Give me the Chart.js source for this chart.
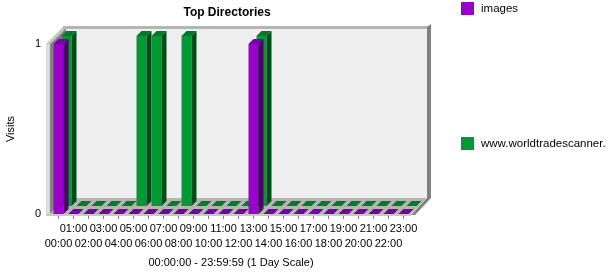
<!DOCTYPE html>
<html><head><meta charset="utf-8">
<script src="https://cdn.jsdelivr.net/npm/chart.js@4/dist/chart.umd.min.js"></script>
<style>html,body{margin:0;padding:0;background:#fff}canvas{display:block}</style>
</head><body>
<canvas id="c" width="609" height="274"></canvas>
<script>
const hours = ['00:00','01:00','02:00','03:00','04:00','05:00','06:00','07:00','08:00','09:00','10:00','11:00',
               '12:00','13:00','14:00','15:00','16:00','17:00','18:00','19:00','20:00','21:00','22:00','23:00'];
const imagesVisits = [1,0,0,0,0,0,0,0,0,0,0,0,0,1,0,0,0,0,0,0,0,0,0,0];
const wtsVisits    = [1,0,0,0,0,1,1,0,1,0,0,0,0,1,0,0,0,0,0,0,0,0,0,0];
const seriesNames = ['images','www.worldtradescanner.'];
const yTickValues = [0,1];
const chartTitle = 'Top Directories';
const xTitle = '00:00:00 - 23:59:59 (1 Day Scale)';
const yTitle = 'Visits';

const FONT = 'Liberation Sans, Arial, sans-serif';
const SLOT = 8, BD = 5;
const SHADES = [
  {front:'#9900CC', side:'#4C0066', top:'#7A00A8', slab:'#7300A0'},
  {front:'#009933', side:'#004D19', top:'#007A29', slab:'#007A29'}
];

function poly(ctx, pts, col){
  ctx.beginPath(); ctx.moveTo(pts[0][0], pts[0][1]);
  for (let i=1;i<pts.length;i++) ctx.lineTo(pts[i][0], pts[i][1]);
  ctx.closePath(); ctx.fillStyle=col; ctx.fill();
}

const threeD = {
  id:'threeD',
  beforeDatasetsDraw(chart){
    const ctx = chart.ctx, a = chart.chartArea;
    const L=a.left, R=a.right, T=a.top, B=a.bottom, D=SLOT*2;
    ctx.save();
    poly(ctx, [[L-1,T],[L-1+D,T-D],[L-1+D,B-D],[L-1,B]], '#808080');
    ctx.fillStyle='#DCDCDC'; ctx.fillRect(L-5, T, 4, B-T+2);
    poly(ctx, [[L-5,T],[L-5+D,T-D],[L-1+D,T-D],[L-1,T]], '#C4C4C4');
    ctx.fillStyle='#EEEEEE'; ctx.fillRect(L+D-1, T-D, R-L+1, B-T);
    ctx.fillStyle='#B4B4B4'; ctx.fillRect(L+D-4, T-D-2, R-L+8, 3);
    poly(ctx, [[R+D,T-D-1],[R+D+4,T-D-4],[R+D+4,B-D],[R+4,B+1],[R,B+1],[R+D,B-D]], '#808080');
    poly(ctx, [[L-1,B],[L-1+D,B-D],[R+D,B-D],[R,B]], '#B4B4B4');
    ctx.fillStyle='#C8C8C8'; ctx.fillRect(L-5, B, R-L+5, 2);

    for (let di = chart.data.datasets.length-1; di>=0; di--){
      const meta = chart.getDatasetMeta(di), sh = SHADES[di], off = di*SLOT;
      meta.data.forEach(el=>{
        const p = el.getProps(['x','y','base','width'], true);
        const x0 = p.x - p.width/2 + off, x1 = x0 + p.width;
        const yt = Math.min(p.y,p.base) - off, yb = Math.max(p.y,p.base) - off;
        if (yb - yt > 0.5){
          ctx.fillStyle = sh.front; ctx.fillRect(x0, yt, x1-x0, yb-yt);
          poly(ctx, [[x1,yt],[x1+BD,yt-BD],[x1+BD,yb-BD],[x1,yb]], sh.side);
          poly(ctx, [[x0,yt],[x0+BD,yt-BD],[x1+BD,yt-BD],[x1,yt]], sh.top);
        } else {
          poly(ctx, [[x0,yb],[x0+BD,yb-BD],[x1+BD,yb-BD],[x1,yb]], sh.slab);
        }
      });
    }
    ctx.restore();
    return false;
  },
  afterDraw(chart){
    const ctx = chart.ctx, a = chart.chartArea;
    ctx.save();
    ctx.fillStyle='#000'; ctx.textBaseline='middle';
    ctx.font = 'bold 12px '+FONT; ctx.textAlign='center';
    ctx.fillText(chartTitle, (a.left+a.right)/2 - 4, 13);
    ctx.font = '11.5px '+FONT; ctx.textAlign='left';
    const legY = [2, 137];
    chart.data.datasets.forEach((ds,i)=>{
      ctx.fillStyle = ds.backgroundColor; ctx.fillRect(461, legY[i], 13, 13);
      ctx.fillStyle = '#000'; ctx.fillText(ds.label, 481, legY[i]+7);
    });
    ctx.restore();
  }
};

new Chart(document.getElementById('c'), {
  type:'bar',
  data:{ labels: hours, datasets:[
    {label:seriesNames[0], data:imagesVisits, backgroundColor:SHADES[0].front},
    {label:seriesNames[1], data:wtsVisits, backgroundColor:SHADES[1].front}
  ]},
  options:{
    responsive:false, animation:false, devicePixelRatio:1,
    layout:{padding:{top:44,left:0,right:198,bottom:0}},
    datasets:{bar:{grouped:false, categoryPercentage:1, barPercentage:10/15}},
    plugins:{legend:{display:false}, title:{display:false}, tooltip:{enabled:false}},
    scales:{
      x:{
        offset:true,
        grid:{display:true, drawOnChartArea:false, drawTicks:true, tickLength:5, color:'#808080', offset:false},
        border:{display:false},
        ticks:{autoSkip:false, maxRotation:0, minRotation:0, padding:2, color:'#000',
               font:{family:FONT, size:11, lineHeight:15/11},
               callback:(v,i)=> i%2===0 ? ['', hours[i]] : [hours[i], '']},
        title:{display:true, text:xTitle, color:'#000', font:{family:FONT,size:11}, padding:{top:0,bottom:4}},
        afterFit(s){ s.height = 60; }
      },
      y:{
        min:0, max:1,
        grid:{display:false, drawTicks:false}, border:{display:false},
        afterBuildTicks(s){ s.ticks = yTickValues.map(v=>({value:v})); },
        ticks:{padding:10, color:'#000', font:{family:FONT,size:11}},
        title:{display:true, text:yTitle, color:'#000', font:{family:FONT,size:11}, padding:{top:4,bottom:0}},
        afterFit(s){ s.width = 51; }
      }
    }
  },
  plugins:[threeD]
});
</script>
</body></html>
